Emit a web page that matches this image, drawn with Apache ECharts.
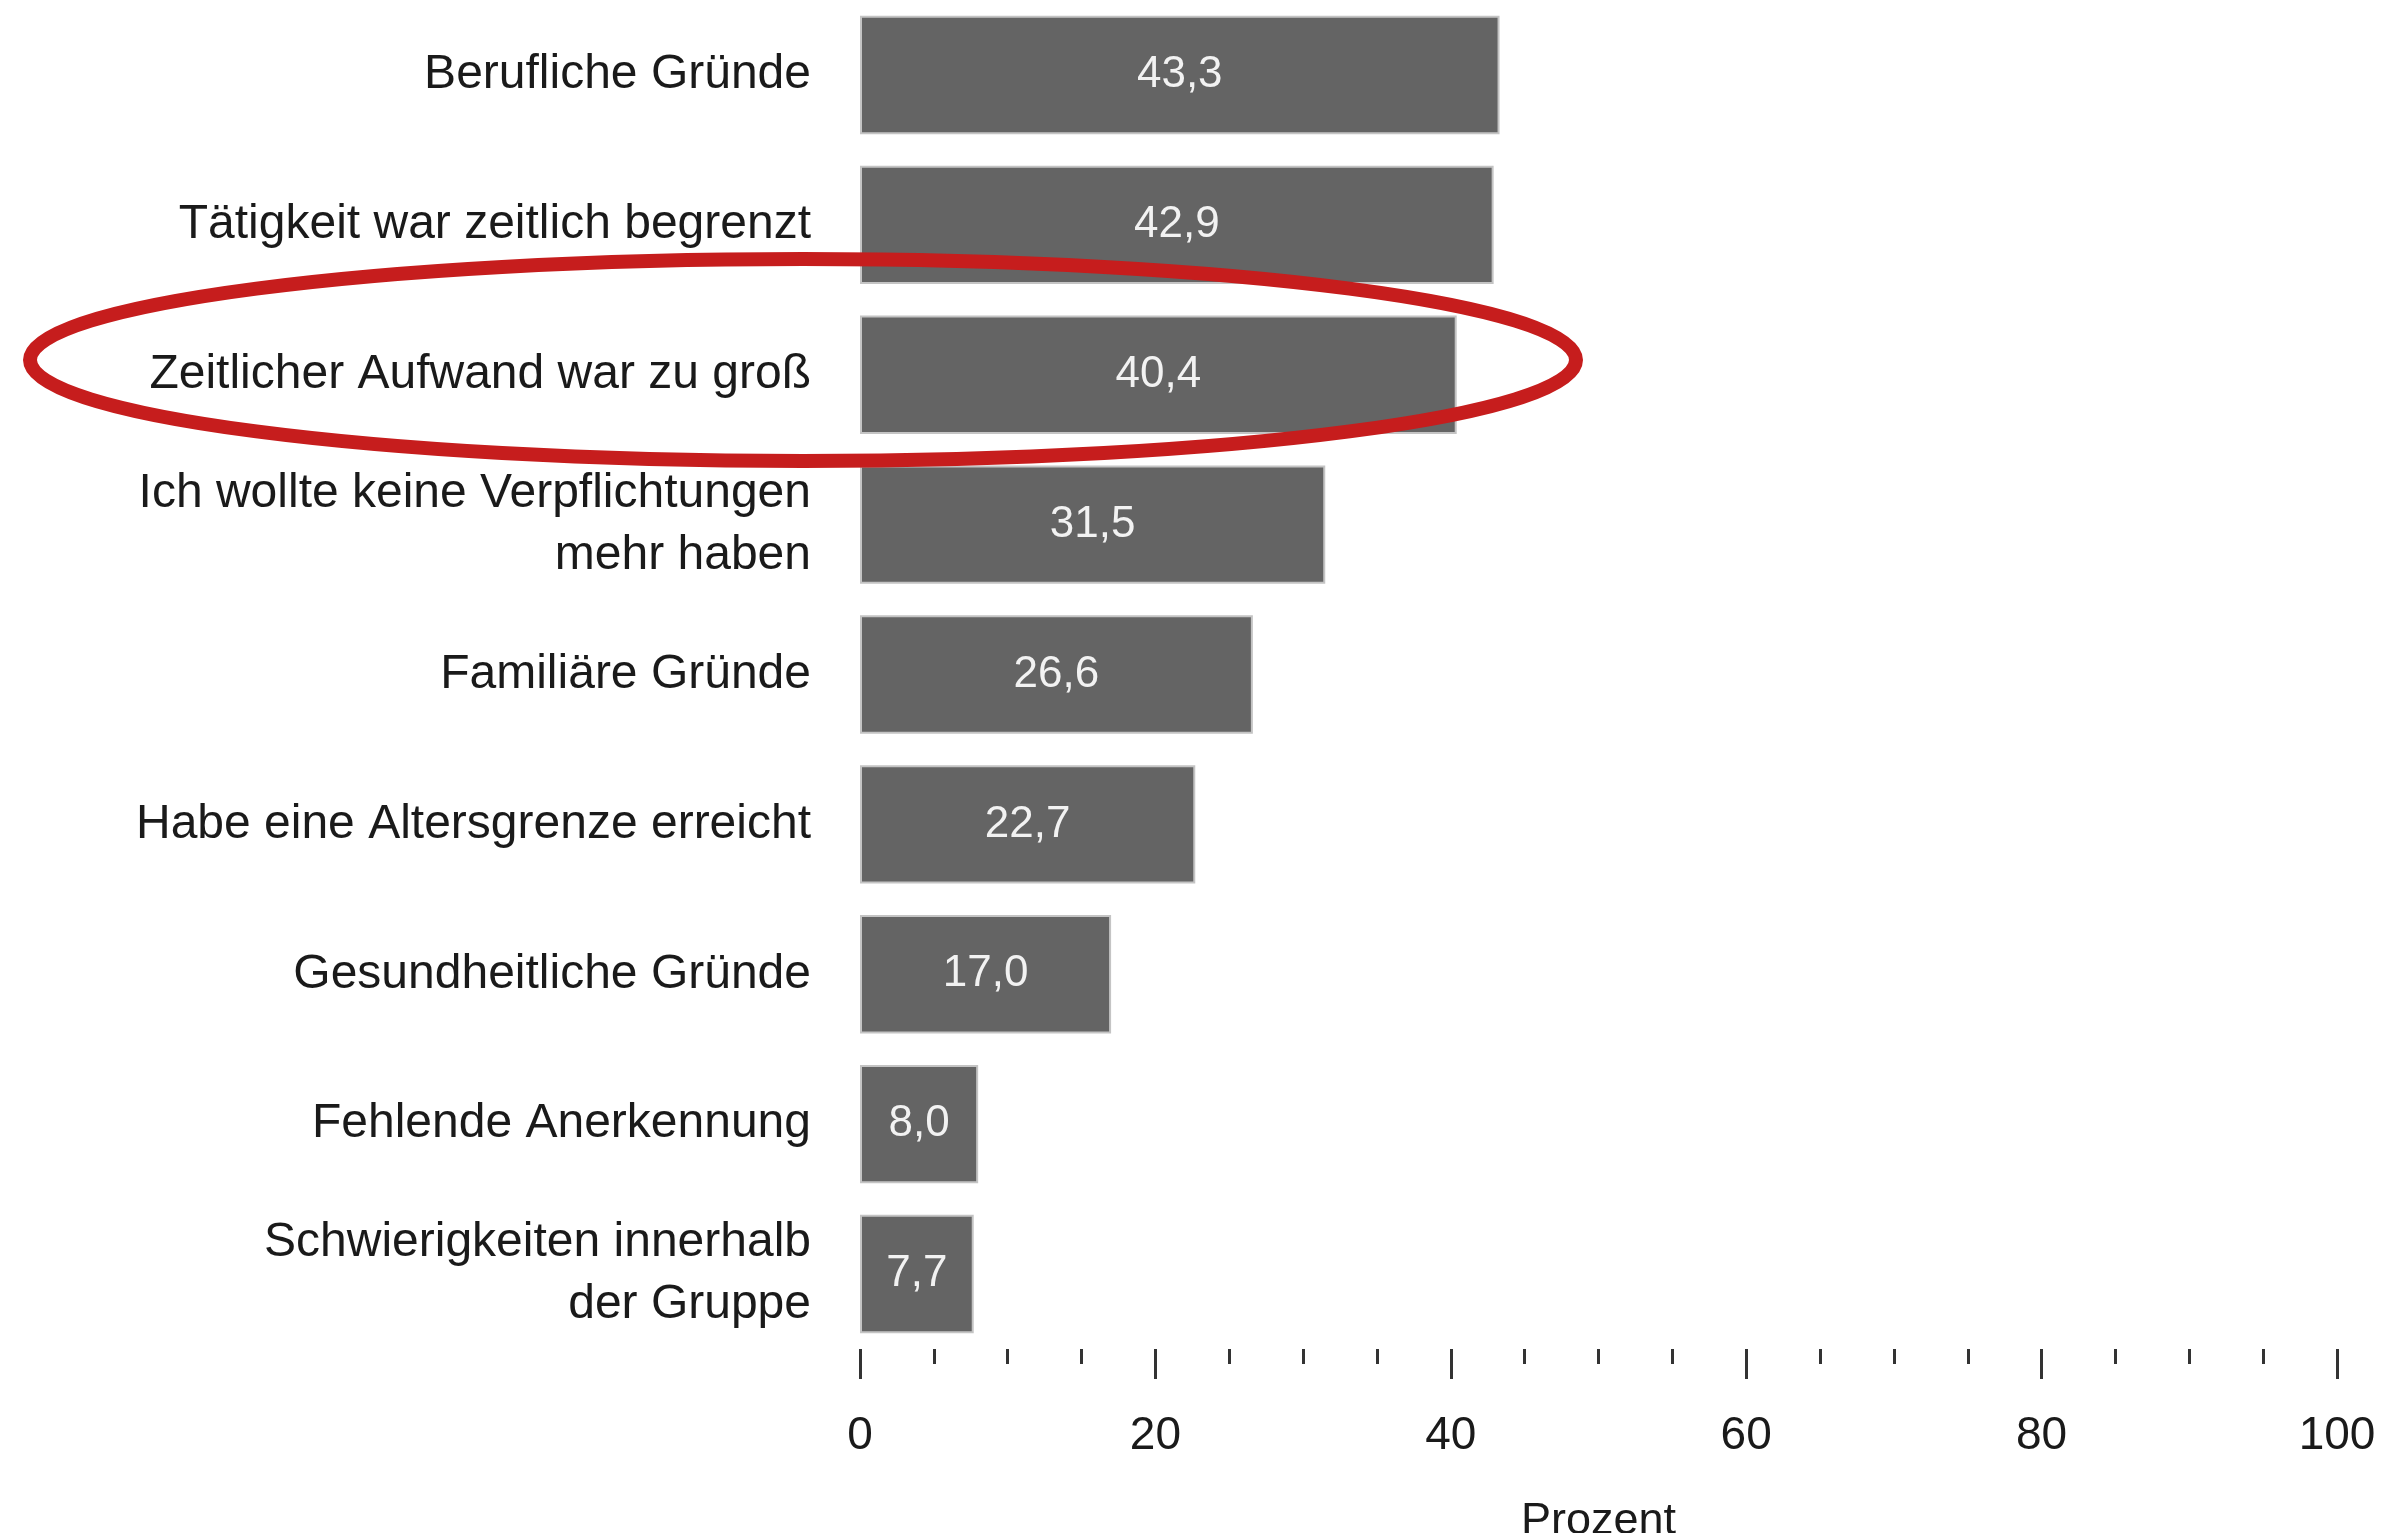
<!DOCTYPE html>
<html>
<head>
<meta charset="utf-8">
<script src="https://cdn.jsdelivr.net/npm/echarts@6/dist/echarts.min.js"></script>
<style>
html,body{margin:0;padding:0;background:#fff;}
#chart{width:2400px;height:1533px;}
</style>
</head>
<body>
<div id="chart"></div>
<script>
// Gründe für die Beendigung des Engagements
var categories=[
	'Berufliche Gründe',
	'Tätigkeit war zeitlich begrenzt',
	'Zeitlicher Aufwand war zu groß',
	'Ich wollte keine Verpflichtungen\nmehr haben',
	'Familiäre Gründe',
	'Habe eine Altersgrenze erreicht',
	'Gesundheitliche Gründe',
	'Fehlende Anerkennung',
	'Schwierigkeiten innerhalb\nder Gruppe'
];
var values=[43.3,42.9,40.4,31.5,26.6,22.7,17.0,8.0,7.7];
var xTicks=[0,20,40,60,80,100];
var axisName='Prozent';

var font="'Liberation Sans', Arial, sans-serif";
var chart=echarts.init(document.getElementById('chart'));
chart.setOption({
	animation:false,
	backgroundColor:'#fff',
	grid:{left:860,right:63,top:0,bottom:184,containLabel:false,outerBoundsMode:'none'},
	xAxis:{
		type:'value',
		min:xTicks[0],
		max:xTicks[xTicks.length-1],
		interval:xTicks[1]-xTicks[0],
		name:axisName,
		nameLocation:'middle',
		nameGap:150,
		nameTextStyle:{fontFamily:font,fontSize:45,color:'#1a1a1a'},
		axisLine:{show:false},
		axisTick:{show:true,length:30,lineStyle:{color:'#333',width:3}},
		minorTick:{show:true,splitNumber:4,length:15,lineStyle:{color:'#333',width:3}},
		splitLine:{show:false},
		axisLabel:{fontFamily:font,fontSize:46,color:'#1a1a1a',margin:64}
	},
	yAxis:{
		type:'category',
		inverse:true,
		data:categories,
		axisLine:{show:false},
		axisTick:{show:false},
		axisLabel:{fontFamily:font,fontSize:48,color:'#1a1a1a',margin:49,lineHeight:62,align:'right'}
	},
	series:[{
		type:'bar',
		data:values,
		barCategoryGap:'21%',
		itemStyle:{color:'#646464',borderColor:'#c4c4c4',borderWidth:2},
		label:{
			show:true,
			position:'inside',
			fontFamily:font,
			fontSize:44,
			color:'#f2f2f2',
			formatter:function(p){return p.value.toFixed(1).replace('.',',');}
		}
	}],
	graphic:[{
		type:'ellipse',
		z:100,
		shape:{cx:803,cy:360,rx:773,ry:101},
		style:{fill:null,stroke:'#c61d1d',lineWidth:14}
	}]
});
</script>
</body>
</html>
